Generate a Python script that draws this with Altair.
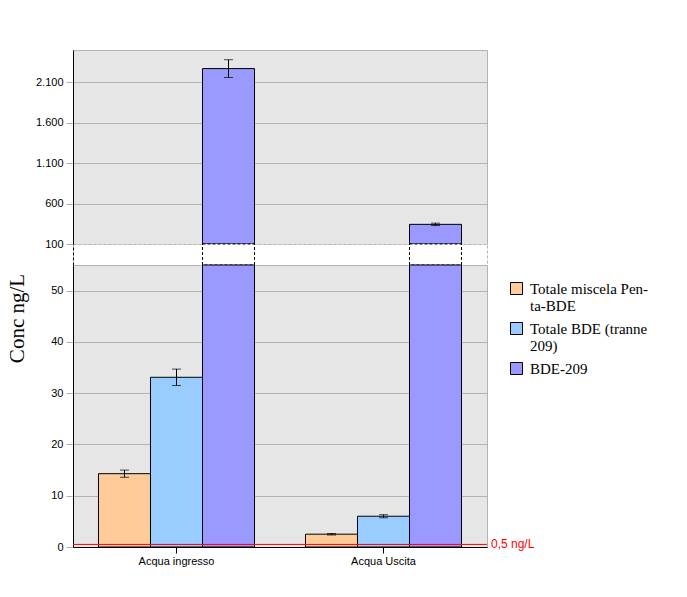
import altair as alt
import pandas as pd

groups = ["Acqua ingresso", "Acqua Uscita"]
series = ["Totale miscela Penta-BDE", "Totale BDE (tranne 209)", "BDE-209"]
penta_vals = [14.3, 2.5]
penta_errs = [0.7, 0.15]
tot_vals = [33.1, 6.0]
tot_errs = [1.6, 0.3]
bde209_vals = [2270, 343]
bde209_errs = [110, 15]
colors = ["#FFCC99", "#99CCFF", "#9999FF"]
upper_ticks = [100, 600, 1100, 1600, 2100]
lower_ticks = [0, 10, 20, 30, 40, 50]
threshold = [0.5]
threshold_label = ["0,5 ng/L"]

rows = []
for s, vals, errs in zip(series, [penta_vals, tot_vals, bde209_vals],
                         [penta_errs, tot_errs, bde209_errs]):
    for g, v, e in zip(groups, vals, errs):
        rows.append({"group": g, "series": s, "value": v, "err": e})
df = pd.DataFrame(rows)
thr_df = pd.DataFrame({"v": threshold, "label": threshold_label})

W = 414
H_TOP = 194
H_GAP = 21
H_BOT = 282
LOW_MAX = 55
UP_MIN, UP_MAX = 100, 2500

GRID = "#B3B3B3"
FONT = "Liberation Sans"
SERIF = "Liberation Serif"

x_noaxis = alt.X("group:N", sort=groups, axis=None,
                 scale=alt.Scale(paddingInner=0, paddingOuter=0))
x_axis = alt.X("group:N", sort=groups, title=None,
               scale=alt.Scale(paddingInner=0, paddingOuter=0),
               axis=alt.Axis(labelAngle=0, labelFont=FONT, labelFontSize=11,
                             labelColor="black", domainColor="black",
                             tickColor="black", tickSize=6, labelPadding=2,
                             grid=False))
xoff = alt.XOffset("series:N", sort=series,
                   scale=alt.Scale(paddingInner=0, paddingOuter=0.49))
color_nolegend = alt.Color("series:N", sort=series,
                           scale=alt.Scale(domain=series, range=colors),
                           legend=None)

label_expr = ("datum.label == 'Totale miscela Penta-BDE' ? ['Totale miscela Pen-', 'ta-BDE'] : "
              "datum.label == 'Totale BDE (tranne 209)' ? ['Totale BDE (tranne', '209)'] : datum.label")
color_legend = alt.Color(
    "series:N", sort=series, scale=alt.Scale(domain=series, range=colors),
    legend=alt.Legend(title=None, orient="none", legendX=W + 22, legendY=16,
                      symbolType="square", symbolSize=144,
                      symbolStrokeColor="black", symbolStrokeWidth=1,
                      labelFont=SERIF, labelFontSize=15, labelColor="black",
                      labelLimit=220, rowPadding=6, labelOffset=6,
                      labelExpr=label_expr))

def err_layers(base, x_enc, y_scale):
    b = base.transform_calculate(lo="datum.value - datum.err",
                                 hi="datum.value + datum.err")
    rule = b.mark_rule(color="black", strokeWidth=1).encode(
        x=x_enc, xOffset=xoff,
        y=alt.Y("lo:Q", scale=y_scale), y2="hi:Q")
    cap_lo = b.mark_tick(color="black", size=9, thickness=1).encode(
        x=x_enc, xOffset=xoff, y=alt.Y("lo:Q", scale=y_scale))
    cap_hi = b.mark_tick(color="black", size=9, thickness=1).encode(
        x=x_enc, xOffset=xoff, y=alt.Y("hi:Q", scale=y_scale))
    return [rule, cap_lo, cap_hi]

# ---------- upper panel ----------
up_scale = alt.Scale(domain=[UP_MIN, UP_MAX], nice=False, zero=False)
up_base = alt.Chart(df).transform_filter(f"datum.value > {UP_MIN}")
up_bars = up_base.mark_bar(stroke="black", strokeWidth=1).encode(
    x=x_noaxis, xOffset=xoff,
    y=alt.Y("value:Q", scale=up_scale, title=None,
            axis=alt.Axis(values=upper_ticks,
                          labelExpr="replace(format(datum.value, ','), ',', '.')",
                          labelFont=FONT, labelFontSize=11, labelColor="black",
                          domainColor="black", tickColor=GRID, tickSize=7,
                          labelPadding=3, gridColor=GRID)),
    y2=alt.datum(UP_MIN),
    color=color_nolegend)
top = alt.layer(up_bars, *err_layers(up_base, x_noaxis, up_scale)).properties(
    width=W, height=H_TOP)

# ---------- gap panel ----------
gap_base = alt.Chart(df).transform_filter("datum.series == 'BDE-209'")
gap_bars = gap_base.mark_bar(fill="white", stroke="black", strokeWidth=1,
                             strokeDash=[3, 2]).encode(
    x=x_noaxis, xOffset=xoff,
    y=alt.Y(datum=1, scale=alt.Scale(domain=[0, 1], nice=False),
            axis=alt.Axis(title=None, labels=False, ticks=False, grid=False,
                          domainColor="black", domainDash=[3, 2])),
    y2=alt.datum(0))
gap = gap_bars.properties(
    width=W, height=H_GAP,
    view=alt.ViewBackground(fill="white", stroke=GRID, strokeDash=[3, 2]))

# ---------- lower panel ----------
low_scale = alt.Scale(domain=[0, LOW_MAX], nice=False)
low_base = alt.Chart(df)
low_bars = low_base.transform_calculate(
    vclip=f"min(datum.value, {LOW_MAX})").mark_bar(
    stroke="black", strokeWidth=1).encode(
    x=x_axis, xOffset=xoff,
    y=alt.Y("vclip:Q", scale=low_scale, title="Conc ng/L",
            axis=alt.Axis(values=lower_ticks, labelFont=FONT, labelFontSize=11,
                          labelColor="black", domainColor="black",
                          tickColor=GRID, tickSize=7, labelPadding=3,
                          gridColor=GRID, titleFont=SERIF, titleFontSize=21,
                          titleFontWeight="normal", titleColor="black",
                          titleX=-46, titleY=53, titleAngle=-90)),
    color=color_legend)
low_err = err_layers(low_base.transform_filter(f"datum.value < {LOW_MAX}"),
                     x_axis, low_scale)
thr_rule = alt.Chart(thr_df).mark_rule(color="#FF0000", strokeWidth=1).encode(
    y=alt.Y("v:Q", scale=low_scale))
thr_text = alt.Chart(thr_df).mark_text(
    color="#FF0000", align="left", baseline="middle", font=FONT,
    fontSize=12, dx=4).encode(
    x=alt.value(W), y=alt.Y("v:Q", scale=low_scale), text="label:N")
bottom = alt.layer(low_bars, *low_err, thr_rule, thr_text).properties(
    width=W, height=H_BOT)

chart = alt.vconcat(top, gap, bottom, spacing=0, bounds="flush").resolve_scale(
    color="independent").resolve_legend(color="independent").properties(
    padding={"left": 5, "top": 49, "right": 5, "bottom": 5},
    background="white"
).configure_view(fill="#E6E6E6", stroke=GRID, strokeWidth=1)

chart.save("out.html", embed_options={"renderer": "svg", "actions": False})
